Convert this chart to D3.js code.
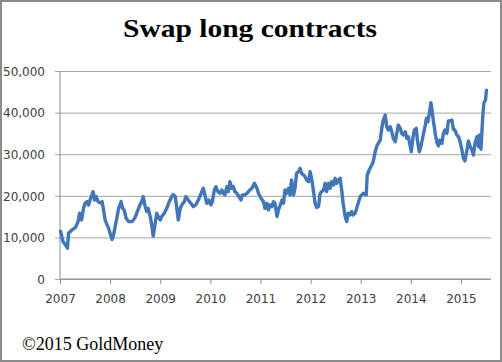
<!DOCTYPE html>
<html>
<head>
<meta charset="utf-8">
<script src="https://cdn.jsdelivr.net/npm/d3@7/dist/d3.min.js"></script>
<style>
  html, body { margin: 0; padding: 0; background: #fff; }
  svg { display: block; }
</style>
</head>
<body>
<svg id="chart" width="502" height="362"></svg>
<script>
// ---- data ----
const title = "Swap long contracts";
const footer = "\u00A92015 GoldMoney";
const xTickYears = [2007, 2008, 2009, 2010, 2011, 2012, 2013, 2014, 2015];
const yTickValues = [0, 10000, 20000, 30000, 40000, 50000];

const years = [
  2007.01, 2007.06, 2007.11, 2007.15, 2007.17, 2007.24, 2007.31, 2007.36, 2007.39, 2007.43,
  2007.47, 2007.50, 2007.54, 2007.57, 2007.60, 2007.64, 2007.66, 2007.69, 2007.72, 2007.76,
  2007.80, 2007.84, 2007.87, 2007.90, 2007.94, 2007.97, 2008.00, 2008.04, 2008.07, 2008.10,
  2008.14, 2008.17, 2008.22, 2008.25, 2008.28, 2008.32, 2008.37, 2008.44, 2008.49, 2008.53,
  2008.58, 2008.63, 2008.66, 2008.70, 2008.73, 2008.76, 2008.80, 2008.83, 2008.86, 2008.90,
  2008.93, 2008.96, 2009.00, 2009.03, 2009.08, 2009.13, 2009.18, 2009.23, 2009.26, 2009.30,
  2009.33, 2009.36, 2009.40, 2009.43, 2009.48, 2009.51, 2009.56, 2009.61, 2009.66, 2009.71,
  2009.76, 2009.79, 2009.83, 2009.86, 2009.89, 2009.93, 2009.97, 2010.01, 2010.04, 2010.08,
  2010.11, 2010.15, 2010.19, 2010.23, 2010.26, 2010.29, 2010.33, 2010.36, 2010.39, 2010.43,
  2010.46, 2010.49, 2010.53, 2010.57, 2010.61, 2010.64, 2010.68, 2010.73, 2010.76, 2010.79,
  2010.83, 2010.88, 2010.93, 2010.96, 2011.01, 2011.06, 2011.09, 2011.13, 2011.16, 2011.19,
  2011.23, 2011.26, 2011.29, 2011.33, 2011.36, 2011.39, 2011.43, 2011.46, 2011.49, 2011.52,
  2011.56, 2011.59, 2011.62, 2011.66, 2011.69, 2011.72, 2011.76, 2011.79, 2011.82, 2011.86,
  2011.89, 2011.92, 2011.96, 2011.99, 2012.02, 2012.06, 2012.09, 2012.12, 2012.16, 2012.19,
  2012.22, 2012.26, 2012.29, 2012.32, 2012.36, 2012.39, 2012.42, 2012.46, 2012.49, 2012.52,
  2012.56, 2012.59, 2012.62, 2012.65, 2012.69, 2012.72, 2012.75, 2012.79, 2012.82, 2012.85,
  2012.89, 2012.92, 2012.95, 2012.99, 2013.05, 2013.11, 2013.13, 2013.17, 2013.22, 2013.25,
  2013.29, 2013.33, 2013.39, 2013.42, 2013.45, 2013.49, 2013.52, 2013.55, 2013.59, 2013.62,
  2013.65, 2013.69, 2013.72, 2013.75, 2013.79, 2013.82, 2013.85, 2013.89, 2013.92, 2013.95,
  2013.99, 2014.01, 2014.04, 2014.07, 2014.11, 2014.13, 2014.17, 2014.20, 2014.24, 2014.29,
  2014.31, 2014.34, 2014.37, 2014.40, 2014.42, 2014.45, 2014.49, 2014.52, 2014.55, 2014.58,
  2014.62, 2014.65, 2014.68, 2014.72, 2014.75, 2014.78, 2014.82, 2014.85, 2014.88, 2014.92,
  2014.95, 2014.98, 2015.02, 2015.05, 2015.08, 2015.12, 2015.15, 2015.18, 2015.22, 2015.25,
  2015.28, 2015.32, 2015.35, 2015.37, 2015.40, 2015.44, 2015.46, 2015.49, 2015.51
];

const contracts = [
  11500, 9000, 8200, 7400, 11000, 11800, 12400, 13800, 15800, 14200,
  17000, 18200, 18600, 17800, 19000, 20200, 21000, 19000, 19800, 18600,
  18300, 18600, 16600, 14200, 13000, 12200, 11000, 9500, 10600, 12600,
  15000, 17000, 18600, 17000, 16600, 14600, 13800, 13800, 14600, 15800,
  17400, 18600, 19800, 17400, 16200, 17000, 15000, 13000, 10300, 13400,
  15800, 15000, 14200, 15000, 15800, 17000, 18600, 19800, 20300, 19800,
  17000, 14200, 17000, 17800, 18600, 19800, 19000, 18200, 17400, 17800,
  19000, 19800, 21000, 21800, 20200, 18200, 19000, 17800, 18600, 21400,
  22200, 21000, 20600, 21400, 20600, 20200, 22200, 21000, 23400, 21800,
  22200, 21000, 20600, 19800, 19000, 20200, 20200, 20600, 21000, 21400,
  21800, 23000, 21800, 20600, 19400, 18600, 17000, 18200, 16600, 17800,
  17400, 18600, 18200, 15000, 16600, 17600, 19000, 18200, 21400, 20600,
  21800, 20200, 23800, 20200, 21800, 25400, 25800, 26600, 25400, 25000,
  24600, 23800, 23400, 25800, 24200, 21000, 18200, 17200, 17500, 20600,
  21000, 21400, 23000, 21000, 23000, 21800, 23400, 22600, 24200, 23000,
  23800, 24200, 21400, 18200, 15000, 13800, 15800, 15400, 16200, 15400,
  15800, 17000, 18200, 19800, 20600, 20200, 25000, 26200, 27400, 28200,
  30600, 32200, 33400, 36200, 38200, 39400, 36600, 35800, 36600, 35400,
  33800, 33000, 35000, 37000, 36200, 35000, 34600, 35400, 33800, 34200,
  31800, 30600, 33800, 35800, 36200, 33400, 30600, 31800, 34200, 37000,
  38600, 37800, 39800, 42400, 41000, 38000, 34800, 32800, 32000, 33400,
  32600, 35000, 35800, 35000, 38000, 38000, 38200, 36000, 35800, 34600,
  34200, 33200, 31000, 29000, 28400, 31000, 33200, 32000, 31000, 29800,
  32600, 34200, 31800, 34600, 31200, 40000, 42400, 43000, 45400
];

// ---- drawing ----
const W = 502, H = 362;
const svg = d3.select("#chart");

// outer frame
svg.append("rect")
  .attr("x", 1).attr("y", 1).attr("width", W - 2).attr("height", H - 2)
  .attr("fill", "#fff").attr("stroke", "#8c8c8c").attr("stroke-width", 2);

const x = d3.scaleLinear().domain([2007, 2015.6]).range([60, 491]);
const y = d3.scaleLinear().domain([0, 50000]).range([279, 71]);

const labelFont = "'DejaVu Sans', Verdana, sans-serif";

// y gridlines + ticks
const yAxis = d3.axisLeft(y)
  .tickValues(yTickValues)
  .tickSize(-(491 - 60))
  .tickSizeOuter(0)
  .tickFormat(d3.format(","));
const gy = svg.append("g").attr("transform", "translate(60,0)").call(yAxis);
gy.select(".domain").remove();
gy.selectAll(".tick line")
  .attr("x1", -5)
  .attr("stroke", "#a6a6a6").attr("stroke-width", 1);
gy.selectAll(".tick text")
  .attr("x", -15)
  .attr("dy", "0.36em")
  .style("font-family", labelFont).style("font-size", "12px")
  .attr("fill", "#404040");

// vertical axis line
svg.append("line")
  .attr("x1", 60).attr("x2", 60).attr("y1", y(50000)).attr("y2", y(0))
  .attr("stroke", "#8c8c8c").attr("stroke-width", 1);

// x axis
const xAxis = d3.axisBottom(x)
  .tickValues(xTickYears)
  .tickSize(5)
  .tickSizeOuter(0)
  .tickFormat(d3.format("d"));
const gx = svg.append("g").attr("transform", `translate(0,${y(0)})`).call(xAxis);
gx.select(".domain").attr("stroke", "#8c8c8c").attr("d", `M60,0H491`);
gx.selectAll(".tick line").attr("stroke", "#8c8c8c");
gx.selectAll(".tick text")
  .attr("y", 15)
  .style("font-family", labelFont).style("font-size", "12px")
  .attr("fill", "#404040");

// line series
const data = years.map((t, i) => ({ t, v: contracts[i] }));
svg.append("path")
  .datum(data)
  .attr("fill", "none")
  .attr("stroke", "#4176b9")
  .attr("stroke-width", 3.4)
  .attr("stroke-linejoin", "round")
  .attr("stroke-linecap", "round")
  .attr("d", d3.line().x(d => x(d.t)).y(d => y(d.v)));

// title
svg.append("text")
  .attr("x", 250).attr("y", 36.5)
  .attr("text-anchor", "middle")
  .attr("textLength", 254).attr("lengthAdjust", "spacingAndGlyphs")
  .style("font-family", "'Liberation Serif', 'DejaVu Serif', serif")
  .style("font-weight", "bold").style("font-size", "26px")
  .attr("fill", "#000")
  .text(title);

// footer
svg.append("text")
  .attr("x", 22).attr("y", 350)
  .style("font-family", "'Liberation Serif', 'DejaVu Serif', serif")
  .style("font-size", "18px")
  .attr("fill", "#000")
  .text(footer);
</script>
</body>
</html>
